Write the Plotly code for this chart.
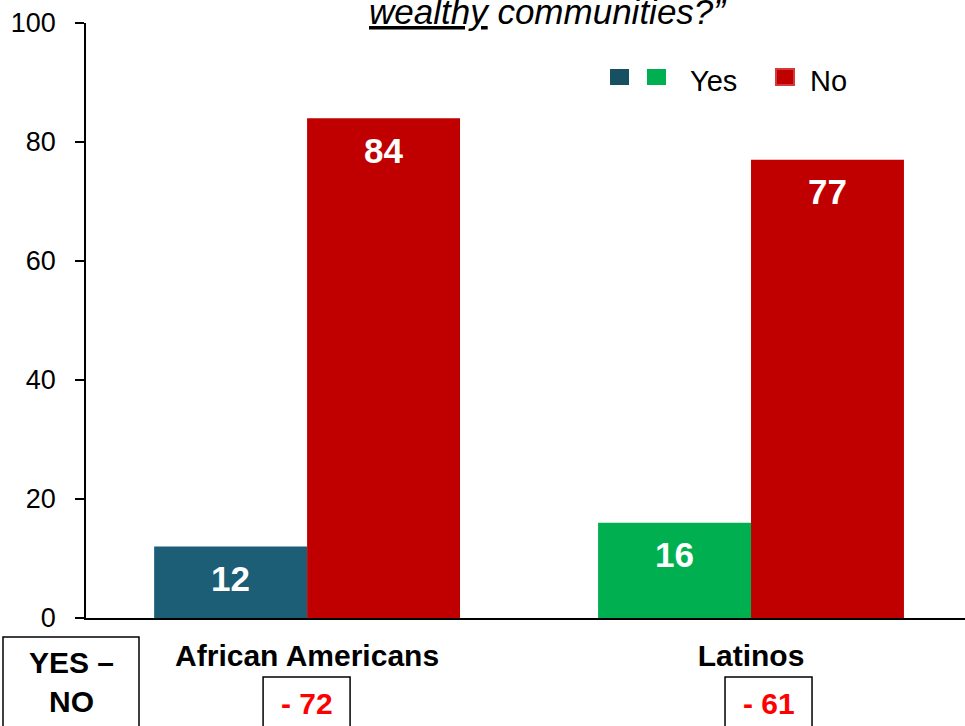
import plotly.graph_objects as go

# Survey responses (percent)
categories = ["African Americans", "Latinos"]
yes_values = [12, 16]
no_values = [84, 77]
yes_colors = ["#1b5e76", "#00b050"]
no_color = "#c00000"
tick_values = [0, 20, 40, 60, 80, 100]

FONT = "Liberation Sans, Arial, sans-serif"

fig = go.Figure()
fig.add_trace(go.Bar(x=categories, y=yes_values, name="Yes",
                     marker=dict(color=yes_colors, line=dict(width=0)),
                     showlegend=False, hoverinfo="skip"))
fig.add_trace(go.Bar(x=categories, y=no_values, name="No",
                     marker=dict(color=no_color, line=dict(width=0)),
                     showlegend=False, hoverinfo="skip"))

annotations = []
shapes = []

# value labels inside the top of each bar
half = 0.345 / 2
# horizontal pixel offset of each difference box from its group centre
box_offsets = [0, 18]
for i, (y, n) in enumerate(zip(yes_values, no_values)):
    for xv, v in ((i - half, y), (i + half, n)):
        annotations.append(dict(x=xv, y=v, xref="x", yref="y", text=f"<b>{v}</b>",
                                showarrow=False, yshift=-32, yanchor="middle",
                                font=dict(family=FONT, size=35, color="white")))
    # Yes minus No difference box under each group
    diff = y - n
    sign = "-" if diff < 0 else "+"
    off = box_offsets[i]
    annotations.append(dict(x=i, y=0, xref="x", yref="paper",
                            text=f"<b>{sign} {abs(diff)}</b>", showarrow=False,
                            xshift=off, yshift=-85, yanchor="middle",
                            font=dict(family=FONT, size=30, color="#ff0000")))
    shapes.append(dict(type="rect", xref="x", yref="paper",
                       xsizemode="pixel", xanchor=i, x0=off - 44, x1=off + 43,
                       ysizemode="pixel", yanchor=0, y0=-59, y1=-140,
                       line=dict(color="black", width=1.5), fillcolor="rgba(0,0,0,0)"))

# row header box
shapes.append(dict(type="rect", xref="paper", yref="paper",
                   xsizemode="pixel", xanchor=0, x0=-83, x1=53,
                   ysizemode="pixel", yanchor=0, y0=-19, y1=-140,
                   line=dict(color="black", width=1.5), fillcolor="rgba(0,0,0,0)"))
annotations.append(dict(x=0, y=0, xref="paper", yref="paper", text="<b>YES –<br>NO</b>",
                        showarrow=False, xshift=-15, yshift=-64, xanchor="center",
                        yanchor="middle", align="center",
                        font=dict(family=FONT, size=30, color="black")))

# legend: two swatches for Yes, one for No
for x0, x1, fill, edge in ((524, 543, "#174f63", "#174f63"),
                           (561, 580, "#00b050", "#00b050"),
                           (690, 708, no_color, "#d43a3a")):
    shapes.append(dict(type="rect", xref="paper", yref="paper",
                       xsizemode="pixel", xanchor=0, x0=x0, x1=x1,
                       ysizemode="pixel", yanchor=1, y0=-46, y1=-62,
                       line=dict(color=edge, width=2 if edge != fill else 0),
                       fillcolor=fill))
for label, xs in (("Yes", 602), ("No", 722)):
    annotations.append(dict(x=0, y=1, xref="paper", yref="paper", text=label,
                            showarrow=False, xshift=xs, yshift=-58,
                            xanchor="left", yanchor="middle",
                            font=dict(family=FONT, size=29, color="black")))

# last line of the question title
annotations.append(dict(x=0, y=1, xref="paper", yref="paper",
                        text="<i><u>wealthy</u> communities?”</i>",
                        showarrow=False, xshift=461, yshift=12,
                        xanchor="center", yanchor="middle",
                        font=dict(family=FONT, size=35, color="black")))

fig.update_layout(
    width=965, height=726,
    margin=dict(l=86, r=0, t=23, b=108),
    paper_bgcolor="white", plot_bgcolor="white",
    barmode="group", bargap=0.311, bargroupgap=0,
    annotations=annotations, shapes=shapes,
    font=dict(family=FONT, color="black"),
    xaxis=dict(range=[-0.498, 1.482], showline=True, linecolor="black", linewidth=1.5,
               ticks="", showgrid=False, zeroline=False,
               tickfont=dict(family=FONT, size=30, color="black", weight="bold"),
               ticklabelstandoff=10),
    yaxis=dict(range=[0, 100], tickvals=tick_values, showline=True, linecolor="black",
               linewidth=1.5, ticks="outside", ticklen=9, tickcolor="black", tickwidth=1.5,
               showgrid=False, zeroline=False, ticklabelstandoff=14,
               tickfont=dict(family=FONT, size=27, color="black")),
)

fig.write_html("out.html")
